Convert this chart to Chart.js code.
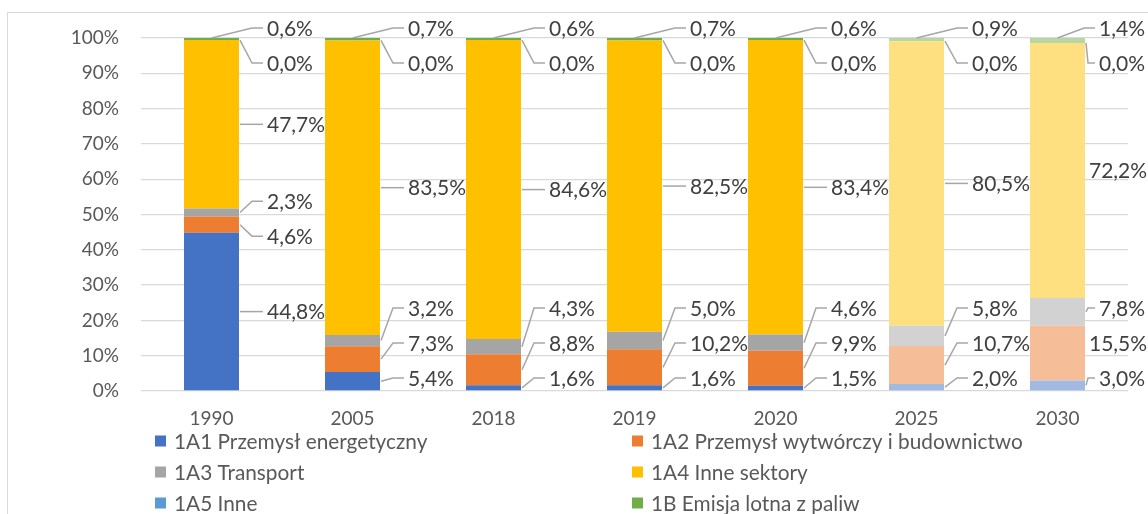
<!DOCTYPE html>
<html>
<head>
<meta charset="utf-8">
<script src="https://cdn.jsdelivr.net/npm/chart.js@4"></script>
<style>
  html, body { margin: 0; padding: 0; background: #fff; overflow: hidden; }
  #frame { position: absolute; left: 7px; top: 12px; width: 1200px; height: 600px; border: 1px solid #d9d9d9; }
  #wrap { position: absolute; left: 0; top: 0; width: 1148px; height: 514px; }
</style>
</head>
<body>
<div id="frame"></div>
<div id="wrap"><canvas id="chart" width="1148" height="514"></canvas></div>
<script>
// categories (2025 and 2030 are projections, drawn in lighter tints)
var years = ['1990', '2005', '2018', '2019', '2020', '2025', '2030'];
var isProjection = [false, false, false, false, false, true, true];

var seriesNames = [
    '1A1 Przemysł energetyczny',
    '1A2 Przemysł wytwórczy i budownictwo',
    '1A3 Transport',
    '1A4 Inne sektory',
    '1A5 Inne',
    '1B Emisja lotna z paliw'
];

// shares in %, as printed on the chart
var energy       = [44.8, 5.4, 1.6, 1.6, 1.5, 2.0, 3.0];
var industry     = [4.6, 7.3, 8.8, 10.2, 9.9, 10.7, 15.5];
var transport    = [2.3, 3.2, 4.3, 5.0, 4.6, 5.8, 7.8];
var otherSectors = [47.7, 83.5, 84.6, 82.5, 83.4, 80.5, 72.2];
var otherFuel    = [0.0, 0.0, 0.0, 0.0, 0.0, 0.0, 0.0];
var fugitive     = [0.6, 0.7, 0.6, 0.7, 0.6, 0.9, 1.4];

var seriesValues = [energy, industry, transport, otherSectors, otherFuel, fugitive];
var seriesColors = ['#4472C4', '#ED7D31', '#A5A5A5', '#FFC000', '#5B9BD5', '#70AD47'];

// 100% stacked: normalise each year to its total
var totals = years.map(function(y, i) {
    return seriesValues.reduce(function(s, arr) { return s + arr[i]; }, 0);
});

function tint(hex) {
    var r = parseInt(hex.substr(1, 2), 16), g = parseInt(hex.substr(3, 2), 16), b = parseInt(hex.substr(5, 2), 16);
    return 'rgb(' + Math.round((r + 255) / 2) + ',' + Math.round((g + 255) / 2) + ',' + Math.round((b + 255) / 2) + ')';
}

function fmt(v) {
    return v.toFixed(1).replace('.', ',') + '%';
}

var datasets = seriesNames.map(function(name, d) {
    return {
        label: name,
        raw: seriesValues[d],
        legendColor: seriesColors[d],
        data: seriesValues[d].map(function(v, i) { return v / totals[i] * 100; }),
        backgroundColor: years.map(function(y, i) { return isProjection[i] ? tint(seriesColors[d]) : seriesColors[d]; }),
        borderWidth: 0,
        barPercentage: 0.39,
        categoryPercentage: 1
    };
});

// labels to the right of each bar, joined by leader lines
var leaderLabels = {
    id: 'leaderLabels',
    afterDatasetsDraw: function(chart) {
        var ctx = chart.ctx;
        var area = chart.chartArea;
        var gap = 35;
        var minY = area.top - 10;
        var maxY = area.bottom - 13;
        ctx.save();
        ctx.font = '21px Lato';
        ctx.textBaseline = 'middle';
        ctx.textAlign = 'left';

        years.forEach(function(year, i) {
            var items = [];
            var stackTop = Infinity;
            chart.data.datasets.forEach(function(ds, d) {
                var bar = chart.getDatasetMeta(d).data[i];
                stackTop = Math.min(stackTop, bar.y);
                items.push({ value: ds.raw[i], cy: (bar.y + bar.base) / 2, bar: bar, d: d });
            });
            items.sort(function(a, b) { return a.cy - b.cy || b.d - a.d; });

            function place(c) {
                var sum = 0;
                c.items.forEach(function(it, k) { sum += it.cy - k * gap; });
                var top = sum / c.items.length;
                top = Math.max(top, minY);
                top = Math.min(top, maxY - (c.items.length - 1) * gap);
                c.top = top;
            }

            var clusters = items.map(function(it) { return { items: [it] }; });
            clusters.forEach(place);
            var merged = true;
            while (merged) {
                merged = false;
                for (var k = 1; k < clusters.length; k++) {
                    var a = clusters[k - 1], b = clusters[k];
                    if (a.top + a.items.length * gap > b.top) {
                        a.items = a.items.concat(b.items);
                        clusters.splice(k, 1);
                        place(a);
                        merged = true;
                        break;
                    }
                }
            }

            clusters.forEach(function(c) {
                c.items.forEach(function(it, k) {
                    var ly = c.top + k * gap;
                    var bar = it.bar;
                    var right = bar.x + bar.width / 2;
                    var text = fmt(it.value);
                    var w = ctx.measureText(text).width;
                    var tx = Math.max(right + 4, Math.min(right + 28, chart.width - 3 - w));

                    var ax = right + 1, ay = it.cy;
                    if (ly < stackTop - 4 && it.d === chart.data.datasets.length - 1) {
                        ax = bar.x;
                        ay = bar.y;
                    }
                    var ex = tx - 4;
                    var bx = Math.max(ax + 2, tx - 15);
                    if (ex > ax) {
                        ctx.strokeStyle = '#A6A6A6';
                        ctx.lineWidth = 1.5;
                        ctx.beginPath();
                        ctx.moveTo(ax, ay);
                        ctx.lineTo(bx, ly);
                        ctx.lineTo(ex, ly);
                        ctx.stroke();
                    }
                    ctx.fillStyle = '#404040';
                    ctx.fillText(text, tx, ly + 1);
                });
            });
        });
        ctx.restore();
    }
};

// two-column legend as in the original
var columnLegend = {
    id: 'columnLegend',
    afterDraw: function(chart) {
        var ctx = chart.ctx;
        ctx.save();
        ctx.font = '20.8px Lato';
        ctx.textBaseline = 'middle';
        ctx.textAlign = 'left';
        chart.data.datasets.forEach(function(ds, d) {
            var x = d % 2 === 0 ? 155 : 632;
            var y = 441 + Math.floor(d / 2) * 31;
            ctx.fillStyle = ds.legendColor;
            ctx.fillRect(x, y - 5.5, 11, 11);
            ctx.fillStyle = '#595959';
            ctx.fillText(ds.label, x + 19, y + 1);
        });
        ctx.restore();
    }
};

var ctx = document.getElementById('chart').getContext('2d');
var chart = new Chart(ctx, {
    type: 'bar',
    data: { labels: years, datasets: datasets },
    options: {
        responsive: false,
        animation: false,
        layout: { padding: { top: 38, right: 20, left: 0, bottom: 0 } },
        plugins: {
            legend: { display: false },
            tooltip: { enabled: false }
        },
        scales: {
            x: {
                stacked: true,
                grid: { display: false },
                border: { display: false },
                ticks: { color: '#595959', font: { family: 'Lato', size: 19 }, padding: 8, maxRotation: 0 },
                afterFit: function(s) { s.height = 123; }
            },
            y: {
                stacked: true,
                min: 0,
                max: 100,
                ticks: {
                    stepSize: 10,
                    color: '#595959',
                    font: { family: 'Lato', size: 19 },
                    padding: 22,
                    callback: function(v) { return v + '%'; }
                },
                grid: { color: '#d9d9d9', lineWidth: 1.3, drawTicks: false },
                border: { display: false },
                afterFit: function(s) { s.width = 141; }
            }
        }
    },
    plugins: [leaderLabels, columnLegend]
});
</script>
</body>
</html>
